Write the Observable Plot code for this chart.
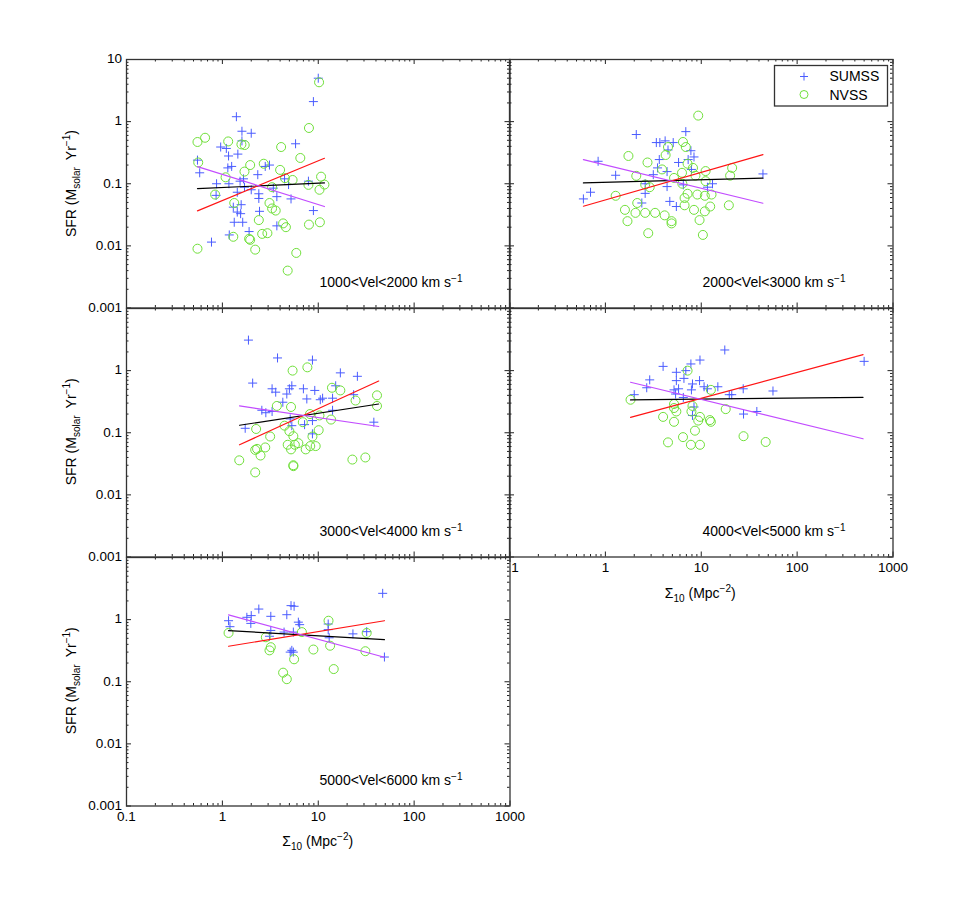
<!DOCTYPE html>
<html><head><meta charset="utf-8">
<script src="https://cdn.jsdelivr.net/npm/d3@7"></script>
<script src="https://cdn.jsdelivr.net/npm/@observablehq/plot@0.6"></script>
<style>
html,body{margin:0;padding:0;background:#fff;}
#wrap{position:relative;width:969px;height:905px;overflow:hidden;font-family:"Liberation Sans",Arial,Helvetica,sans-serif;}
#wrap svg{position:absolute;}
</style></head><body><div id="wrap"></div>
<script>
// ---- data (Sigma_10 [Mpc^-2], SFR [Msolar/yr]) ----
const velLabels = ["1000<Vel<2000 km s","2000<Vel<3000 km s","3000<Vel<4000 km s","4000<Vel<5000 km s","5000<Vel<6000 km s"];

const sumss1 = [[10,5.0],[8.9,2.1],[1.4,1.2],[1.6,0.70],[2.0,0.65],[5.8,0.44],[0.96,0.39],[1.1,0.37],[1.6,0.49],[1.16,0.28],[1.45,0.30],[0.55,0.24],[0.58,0.15],[1.14,0.18],[1.25,0.19],[2.8,0.19],[3.1,0.20],[0.87,0.10],[2.34,0.14],[1.66,0.12],[1.17,0.10],[1.53,0.11],[2.0,0.080],[1.7,0.088],[2.4,0.069],[1.43,0.073],[3.4,0.085],[4.45,0.12],[4.9,0.097],[7.9,0.11],[5.2,0.057],[2.4,0.058],[3.7,0.062],[1.3,0.042],[1.57,0.046],[1.43,0.035],[1.55,0.033],[2.44,0.036],[1.33,0.024],[1.63,0.024],[8.9,0.037],[3.7,0.021],[1.18,0.015],[1.9,0.017],[0.77,0.0115],[0.86,0.065]];
const nvss1 = [[10.2,4.3],[8.0,0.79],[0.55,0.47],[0.66,0.55],[1.15,0.48],[1.58,0.43],[1.71,0.42],[4.1,0.39],[6.5,0.26],[0.56,0.22],[1.95,0.20],[2.7,0.21],[1.7,0.157],[4.0,0.167],[1.08,0.127],[4.5,0.123],[5.4,0.115],[10.7,0.13],[7.9,0.096],[11.6,0.097],[10.3,0.080],[3.3,0.088],[0.84,0.067],[1.33,0.049],[3.1,0.049],[3.3,0.040],[3.6,0.037],[2.4,0.026],[4.3,0.023],[4.6,0.020],[8.0,0.022],[10.4,0.024],[1.3,0.014],[1.95,0.0125],[1.9,0.013],[2.6,0.0156],[2.95,0.016],[0.55,0.009],[2.2,0.0087],[5.9,0.0077],[4.8,0.0040]];

const sumss2 = [[2.1,0.62],[6.9,0.69],[3.4,0.46],[3.7,0.46],[4.2,0.49],[5.1,0.46],[4.5,0.35],[7.8,0.34],[8.4,0.27],[0.84,0.23],[3.65,0.245],[5.8,0.22],[7.3,0.245],[7.9,0.17],[3.5,0.18],[4.4,0.157],[1.28,0.137],[3.16,0.14],[44,0.144],[2.6,0.10],[4.4,0.090],[6.5,0.096],[11.6,0.088],[13.1,0.10],[0.70,0.073],[0.59,0.057],[2.6,0.070],[2.4,0.049],[4.7,0.052],[5.5,0.043]];
const nvss2 = [[9.3,1.25],[6.45,0.47],[4.5,0.39],[6.9,0.39],[4.25,0.29],[1.74,0.28],[2.75,0.22],[7.2,0.21],[8.2,0.18],[21,0.18],[11.1,0.16],[3.9,0.17],[6.3,0.15],[8.7,0.135],[20,0.135],[2.1,0.134],[5.2,0.124],[11.1,0.11],[2.6,0.097],[2.9,0.088],[6.35,0.10],[9.1,0.067],[7.2,0.069],[6.7,0.059],[10.9,0.064],[12.8,0.067],[1.28,0.064],[2.15,0.049],[6.7,0.045],[12.4,0.043],[19.4,0.045],[1.6,0.038],[2.06,0.034],[2.6,0.034],[3.3,0.034],[4.15,0.031],[8.4,0.038],[10.9,0.036],[1.7,0.025],[4.9,0.025],[4.9,0.023],[9.6,0.026],[2.8,0.016],[10.4,0.015]];

const sumss3 = [[1.87,3.1],[3.76,1.6],[8.7,1.48],[17,0.92],[25.6,0.81],[2.07,0.63],[5.3,0.57],[3.3,0.51],[5.0,0.51],[3.6,0.45],[7.0,0.51],[9.2,0.48],[4.7,0.42],[15.2,0.57],[7.6,0.35],[10.5,0.34],[11.1,0.36],[14.1,0.36],[23.4,0.41],[4.27,0.31],[2.58,0.23],[2.84,0.21],[3.3,0.22],[14.1,0.23],[1.73,0.118],[5.3,0.13],[7.2,0.135],[8.7,0.157],[38,0.148],[8.7,0.096],[5.1,0.167]];
const nvss3 = [[7.7,1.13],[5.4,1.0],[13.9,0.53],[17,0.48],[41,0.40],[41,0.27],[24.5,0.33],[3.7,0.27],[5.2,0.26],[8.2,0.20],[10.3,0.19],[13.6,0.163],[2.25,0.115],[4.45,0.13],[6.9,0.148],[5.0,0.106],[10.1,0.11],[3.15,0.087],[5.5,0.088],[8.7,0.087],[4.8,0.064],[5.7,0.064],[6.2,0.068],[8.25,0.061],[9.4,0.061],[2.8,0.058],[2.2,0.053],[2.3,0.055],[5.2,0.054],[7.4,0.054],[2.5,0.043],[1.5,0.036],[22.7,0.037],[31,0.040],[5.5,0.030],[5.5,0.029],[2.2,0.023]];

const sumss4 = [[17.6,2.15],[9.7,1.48],[4.0,1.17],[7.8,1.28],[6.9,1.0],[5.5,0.94],[6.6,0.75],[5.5,0.69],[2.9,0.71],[9.6,0.69],[8.1,0.61],[10.7,0.55],[14.9,0.55],[2.7,0.53],[5.2,0.49],[5.8,0.51],[7.9,0.49],[11.6,0.51],[27.4,0.51],[56,0.47],[2.0,0.41],[5.4,0.42],[19.6,0.41],[20.8,0.41],[6.5,0.37],[8.1,0.19],[27.6,0.20],[38,0.22],[500,1.41],[8.4,0.26]];
const nvss4 = [[7.2,1.0],[12.6,0.49],[1.83,0.34],[5.2,0.29],[5.2,0.25],[5.5,0.22],[8.1,0.27],[7.9,0.22],[18,0.24],[4.0,0.18],[9.7,0.18],[9.3,0.157],[12.3,0.16],[12.6,0.15],[5.2,0.15],[8.6,0.108],[6.45,0.085],[27.6,0.088],[4.5,0.070],[7.8,0.064],[9.7,0.064],[47,0.071]];

const sumss5 = [[47,2.65],[5.2,1.68],[5.6,1.64],[2.4,1.48],[4.7,1.2],[3.2,1.13],[1.8,1.09],[2.0,1.16],[1.16,0.96],[1.2,0.77],[1.98,0.87],[6.2,0.91],[6.4,0.83],[12.7,0.85],[12.7,0.69],[3.2,0.67],[4.4,0.63],[5.5,0.63],[3.1,0.54],[23,0.59],[32,0.64],[13,0.51],[5.1,0.30],[5.5,0.30],[5.3,0.32],[49,0.25]];
const nvss5 = [[12.8,0.96],[1.16,0.61],[6.75,0.63],[32,0.61],[2.84,0.52],[13.3,0.38],[3.2,0.36],[3.1,0.32],[8.9,0.33],[31,0.31],[5.6,0.23],[14.5,0.16],[4.3,0.14],[4.7,0.11]];

// fit lines: x range and y at both ends
const fitRangeX = [[0.55,11.6],[0.59,44],[1.51,42.7],[1.83,487],[1.16,49]];
const fitBlack  = [[0.0836,0.103],[0.103,0.123],[0.132,0.29],[0.337,0.372],[0.665,0.477]];
const fitRed    = [[0.0366,0.257],[0.0435,0.294],[0.064,0.68],[0.177,1.81],[0.373,0.96]];
const fitPurple = [[0.189,0.043],[0.245,0.0486],[0.27,0.126],[0.65,0.080],[1.19,0.248]];

// ticks and tick labels
const xMajor = [0.1,1,10,100,1000];
const yMajor = [0.001,0.01,0.1,1,10];
const xMinor = [0.1,1,10,100].flatMap(d => [2,3,4,5,6,7,8,9].map(k => k*d));
const yMinor = [0.001,0.01,0.1,1].flatMap(d => [2,3,4,5,6,7,8,9].map(k => k*d));
const yLabelsTop = [10,1,0.1,0.01,0.001];
const yLabelsRest = [1,0.1,0.01,0.001];
const xLabels = [0.1,1,10,100,1000];
const fmt = d => String(+d.toPrecision(3));

const sumssAll = [sumss1,sumss2,sumss3,sumss4,sumss5];
const nvssAll = [nvss1,nvss2,nvss3,nvss4,nvss5];

// ---- style / layout ----
const FONT = '"Liberation Sans", Arial, Helvetica, sans-serif';
const BLUE = "#4a5cff", GREEN = "#70e03a", RED = "#ff1414", PURPLE = "#c24cff";
const FW = 383.5, FH = 248.5;
const ML = 70, MR = 30, MT = 20, MB = 45;
const TMAJ = 5, TMIN = 2.5;
const layout = [
  {left:126,   top:59.3,  yLab:yLabelsTop,  xLab:null},
  {left:508.5, top:59.3,  yLab:null,        xLab:null},
  {left:126,   top:307.6, yLab:yLabelsRest, xLab:null},
  {left:508.5, top:307.6, yLab:null,        xLab:xLabels},
  {left:126,   top:556.5, yLab:yLabelsRest, xLab:xLabels}
];
const plusSymbol = {draw(ctx, size){ const r = Math.sqrt(size/Math.PI); ctx.moveTo(-r,0); ctx.lineTo(r,0); ctx.moveTo(0,-r); ctx.lineTo(0,r); }};

const wrap = document.getElementById("wrap");

layout.forEach((L, i) => {
  const [x0, x1] = fitRangeX[i];
  const line = (ys) => [{x:x0, y:ys[0]}, {x:x1, y:ys[1]}];
  const tickStroke = {stroke:"#222", strokeWidth:1};
  const marks = [];
  if (i === 4) marks.push(Plot.frame({fill:"white", stroke:"none"}));
  marks.push(
    Plot.ruleX(xMajor, {x:d=>d, insetTop: FH - TMAJ, ...tickStroke}),
    Plot.ruleX(xMajor, {x:d=>d, insetBottom: FH - TMAJ, ...tickStroke}),
    Plot.ruleX(xMinor, {x:d=>d, insetTop: FH - TMIN, ...tickStroke}),
    Plot.ruleX(xMinor, {x:d=>d, insetBottom: FH - TMIN, ...tickStroke}),
    Plot.ruleY(yMajor, {y:d=>d, insetRight: FW - TMAJ, ...tickStroke}),
    Plot.ruleY(yMajor, {y:d=>d, insetLeft: FW - TMAJ, ...tickStroke}),
    Plot.ruleY(yMinor, {y:d=>d, insetRight: FW - TMIN, ...tickStroke}),
    Plot.ruleY(yMinor, {y:d=>d, insetLeft: FW - TMIN, ...tickStroke}),
    Plot.dot(sumssAll[i], {x:d=>d[0], y:d=>d[1], symbol: plusSymbol, r:4.5, stroke:BLUE, fill:"none", strokeWidth:1}),
    Plot.dot(nvssAll[i], {x:d=>d[0], y:d=>d[1], r:4.5, stroke:GREEN, fill:"none", strokeWidth:1}),
    Plot.line(line(fitBlack[i]), {x:"x", y:"y", stroke:"black", strokeWidth:1.2}),
    Plot.line(line(fitRed[i]), {x:"x", y:"y", stroke:RED, strokeWidth:1.2}),
    Plot.line(line(fitPurple[i]), {x:"x", y:"y", stroke:PURPLE, strokeWidth:1.2}),
    Plot.frame({stroke:"#333", strokeWidth:1.3}),
    Plot.text([velLabels[i]], {frameAnchor:"bottom-right", dx:-47.5, dy:-21.5, textAnchor:"end", text:d=>d, fontSize:14, fill:"black"})
  );
  if (L.yLab) marks.push(Plot.text(L.yLab, {y:d=>d, frameAnchor:"left", dx:-4.5, dy:-0.5, textAnchor:"end", text:fmt, fontSize:13.5, fill:"black"}));
  if (L.xLab) marks.push(Plot.text(L.xLab, {x:d=>d, frameAnchor:"bottom", dy:15, text:fmt, fontSize:13.5, fill:"black"}));

  const svg = Plot.plot({
    width: ML + FW + MR, height: MT + FH + MB,
    marginLeft: ML, marginRight: MR, marginTop: MT, marginBottom: MB,
    x: {type:"log", domain:[0.1,1000], axis:null},
    y: {type:"log", domain:[0.001,10], axis:null},
    style: `background:transparent;overflow:visible;font-family:${FONT};`,
    marks
  });
  svg.style.left = (L.left - ML) + "px";
  svg.style.top = (L.top - MT) + "px";
  svg.style.maxWidth = "none";
  // superscript on annotation
  d3.select(svg).selectAll("text").filter(function(){ return this.textContent === velLabels[i]; })
    .append("tspan").attr("dy", "-0.5em").attr("font-size", "10px").text("\u22121");
  wrap.appendChild(svg);
});

// ---- overlay: axis titles and legend ----
const ov = d3.select(wrap).append("svg")
  .attr("width", 969).attr("height", 905)
  .style("left","0px").style("top","0px")
  .attr("font-family", FONT);

function yTitle(cx, cy) {
  const t = ov.append("text").attr("transform", `translate(${cx},${cy}) rotate(-90)`)
    .attr("text-anchor","middle").attr("font-size",14).attr("fill","black");
  t.append("tspan").text("SFR (M");
  t.append("tspan").attr("dy",4).attr("font-size",10).text("solar");
  t.append("tspan").attr("dy",-4).text("\u2002Yr");
  t.append("tspan").attr("dy",-6).attr("font-size",10).text("\u22121");
  t.append("tspan").attr("dy",6).text(")");
}
function xTitle(cx, cy) {
  const t = ov.append("text").attr("x", cx).attr("y", cy)
    .attr("text-anchor","middle").attr("font-size",14).attr("fill","black");
  t.append("tspan").text("\u03A3");
  t.append("tspan").attr("dy",4).attr("font-size",10).text("10");
  t.append("tspan").attr("dy",-4).text(" (Mpc");
  t.append("tspan").attr("dy",-6).attr("font-size",10).text("\u22122");
  t.append("tspan").attr("dy",6).text(")");
}
yTitle(76, 59.3 + FH/2);
yTitle(76, 307.6 + FH/2);
yTitle(76, 556.5 + FH/2);
xTitle(126 + FW/2, 846);
xTitle(508.5 + FW/2, 598);

// legend
const lg = ov.append("g");
lg.append("rect").attr("x",774.5).attr("y",65.5).attr("width",113).attr("height",40.5)
  .attr("fill","white").attr("stroke","#333").attr("stroke-width",1.3);
lg.append("path").attr("d","M800,76.5h8M804,72.5v8").attr("stroke",BLUE).attr("fill","none");
lg.append("circle").attr("cx",804).attr("cy",94.5).attr("r",4).attr("stroke",GREEN).attr("fill","none");
lg.append("text").attr("x",829.5).attr("y",81).attr("font-size",14).text("SUMSS");
lg.append("text").attr("x",829.5).attr("y",99.5).attr("font-size",14).text("NVSS");
</script></body></html>
